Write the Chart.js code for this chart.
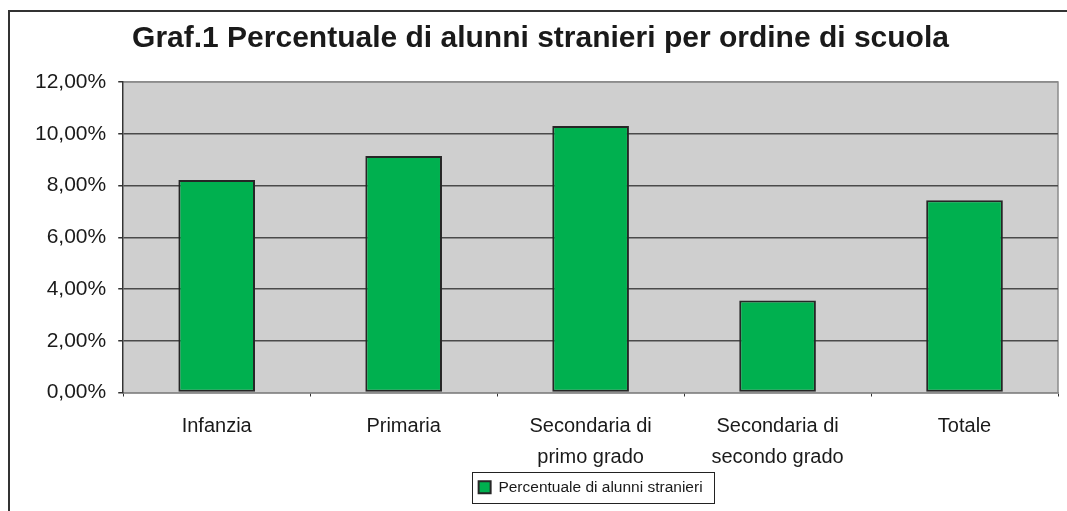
<!DOCTYPE html>
<html>
<head>
<meta charset="utf-8">
<script src="https://cdn.jsdelivr.net/npm/chart.js@4/dist/chart.umd.min.js"></script>
<style>
  html, body { margin: 0; padding: 0; background: #fff; overflow: hidden; }
  #frame { position: absolute; left: 8px; top: 10px; width: 1100px; height: 560px;
           border-left: 2px solid #333; border-top: 2px solid #333; box-sizing: border-box; }
  #wrap { position: absolute; left: 0; top: 0; width: 1067px; height: 511px; }
</style>
</head>
<body>
<div id="frame"></div>
<div id="wrap"><canvas id="chart" width="1067" height="511"></canvas></div>
<script>
  // values
  const categories = [
    "Infanzia",
    "Primaria",
    ["Secondaria di", "primo grado"],
    ["Secondaria di", "secondo grado"],
    "Totale"
  ];
  const seriesLabel = "Percentuale di alunni stranieri";
  const seriesValues = [8.21, 9.14, 10.30, 3.56, 7.43];
  const yTicks = [0, 2, 4, 6, 8, 10, 12];

  const FONT = "'Liberation Sans', Arial, sans-serif";

  // gray plot area + border around legend
  const decor = {
    id: "decor",
    beforeDraw(chart) {
      const a = chart.chartArea, ctx = chart.ctx;
      ctx.save();
      ctx.fillStyle = "#cfcfcf";
      ctx.fillRect(a.left, a.top, a.right - a.left, a.bottom - a.top);
      ctx.strokeStyle = "#8c8c8c";
      ctx.lineWidth = 1.5;
      ctx.beginPath();
      ctx.moveTo(a.left, a.top);
      ctx.lineTo(a.right, a.top);
      ctx.lineTo(a.right, a.bottom);
      ctx.stroke();
      ctx.restore();
    },
    afterDraw(chart) {
      const boxes = chart.legend && chart.legend.legendHitBoxes;
      if (!boxes || !boxes.length) return;
      const b = boxes[0], ctx = chart.ctx;
      ctx.save();
      ctx.strokeStyle = "#222";
      ctx.lineWidth = 1;
      ctx.strokeRect(Math.round(b.left - 7) + 0.5, Math.round(b.top - 8) + 0.5,
                     Math.round(b.width + 18), Math.round(b.height + 15));
      ctx.restore();
    }
  };

  new Chart(document.getElementById("chart"), {
    type: "bar",
    data: {
      labels: categories,
      datasets: [{
        label: seriesLabel,
        data: seriesValues,
        backgroundColor: "#00b04f",
        borderColor: "#262626",
        borderWidth: 2,
        borderSkipped: false,
        barPercentage: 0.41,
        categoryPercentage: 1.0
      }]
    },
    options: {
      responsive: false,
      animation: false,
      layout: { padding: { left: 23, right: 9, top: 4, bottom: 6 } },
      plugins: {
        title: {
          display: true,
          text: "Graf.1 Percentuale di alunni stranieri per ordine di scuola",
          color: "#1a1a1a",
          font: { family: FONT, size: 30, weight: "bold" },
          padding: { top: 17, bottom: 25 }
        },
        legend: {
          display: true,
          position: "bottom",
          fullSize: false,
          labels: {
            color: "#1a1a1a",
            font: { family: FONT, size: 15.5 },
            boxWidth: 12,
            boxHeight: 12,
            padding: 0
          }
        },
        tooltip: { enabled: false }
      },
      scales: {
        x: {
          offset: true,
          afterFit: s => { s.height -= 7; },
          grid: { display: true, drawOnChartArea: false, offset: true, tickLength: 4, color: "#333" },
          border: { color: "#8c8c8c", width: 1.5 },
          ticks: {
            color: "#1a1a1a",
            font: { family: FONT, size: 20, lineHeight: 1.55 },
            padding: 14,
            maxRotation: 0,
            autoSkip: false
          }
        },
        y: {
          min: 0,
          max: 12,
          afterBuildTicks: axis => { axis.ticks = yTicks.map(v => ({ value: v })); },
          grid: {
            color: ctx => (ctx.tick && ctx.tick.value === 12) ? "#8c8c8c" : "#4a4a4a",
            lineWidth: 1.5,
            tickLength: 5,
            tickColor: "#333"
          },
          border: { color: "#333", width: 1.5 },
          ticks: {
            color: "#1a1a1a",
            font: { family: FONT, size: 21 },
            padding: 12,
            callback: v => v.toFixed(2).replace(".", ",") + "%"
          }
        }
      }
    },
    plugins: [decor]
  });
</script>
</body>
</html>
